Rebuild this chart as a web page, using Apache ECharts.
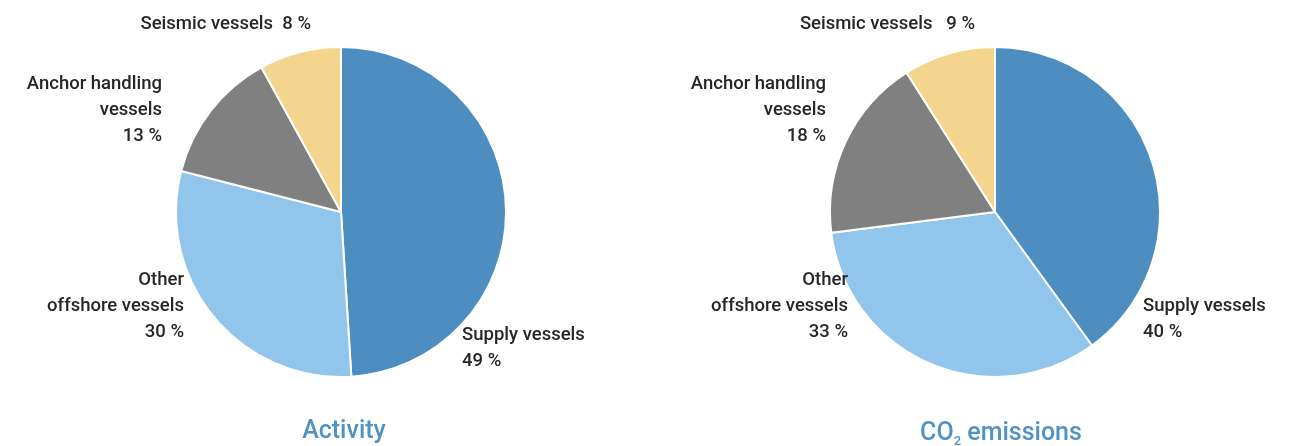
<!DOCTYPE html>
<html>
<head>
<meta charset="utf-8">
<script src="https://cdn.jsdelivr.net/npm/echarts@6/dist/echarts.min.js"></script>
<style>
  html, body { margin: 0; padding: 0; background: #ffffff; }
  #chart { width: 1300px; height: 446px; }
</style>
</head>
<body>
<div id="chart"></div>
<script>
// Vessel categories, clockwise from 12 o'clock
const categories = ['Supply vessels', 'Other\noffshore vessels', 'Anchor handling\nvessels', 'Seismic vessels'];
// Share of activity (%)
const activityShare = [49, 30, 13, 8];
// Share of CO2 emissions (%)
const emissionShare = [40, 33, 18, 9];
const panelTitles = ['Activity', 'CO{sub|2} emissions'];

const sliceColors = ['#4d8dbf', '#92c5eb', '#808080', '#f4d58d'];
const FONT = 'Roboto, "DejaVu Sans", sans-serif';

// label anchor per slice: [x, y, align]
const labelSpots = [
  [[462, 348, 'left'], [184, 306, 'right'], [162, 110, 'right'], [311, 24, 'right']],
  [[1143, 319, 'left'], [848, 306, 'right'], [826, 110, 'right'], [975, 24, 'right']]
];
const seismicGap = ['  ', '   '];

function pieSeries(values, cx, panel) {
  return {
    type: 'pie',
    center: [cx, 212],
    radius: 165,
    startAngle: 90,
    clockwise: true,
    avoidLabelOverlap: false,
    silent: true,
    itemStyle: { borderColor: '#ffffff', borderWidth: 2 },
    label: {
      show: true,
      color: '#262626',
      fontFamily: FONT,
      fontSize: 18.5,
      fontWeight: 500,
      lineHeight: 26,
      formatter: function (p) {
        if (p.dataIndex === 3) return p.name + seismicGap[panel] + p.value + ' %';
        return p.name + '\n' + p.value + ' %';
      }
    },
    labelLine: { show: false },
    labelLayout: function (p) {
      const s = labelSpots[panel][p.dataIndex];
      return { x: s[0], y: s[1], align: s[2], verticalAlign: 'middle' };
    },
    data: values.map(function (v, i) {
      return { name: categories[i], value: v, itemStyle: { color: sliceColors[i] } };
    })
  };
}

const chart = echarts.init(document.getElementById('chart'), null, { renderer: 'canvas' });
chart.setOption({
  backgroundColor: '#ffffff',
  animation: false,
  title: [
    {
      text: panelTitles[0], left: 339, top: 414, textAlign: 'center',
      textStyle: { color: '#4f93c4', fontFamily: FONT, fontSize: 25, fontWeight: 500 }
    },
    {
      text: panelTitles[1], left: 996, top: 414, textAlign: 'center',
      textStyle: {
        color: '#4f93c4', fontFamily: FONT, fontSize: 25, fontWeight: 500,
        rich: { sub: { fontSize: 13, fontFamily: FONT, fontWeight: 500, color: '#4f93c4', verticalAlign: 'bottom', padding: [16, 0, 0, 0] } }
      }
    }
  ],
  series: [
    pieSeries(activityShare, 341, 0),
    pieSeries(emissionShare, 995, 1)
  ]
});
</script>
</body>
</html>
